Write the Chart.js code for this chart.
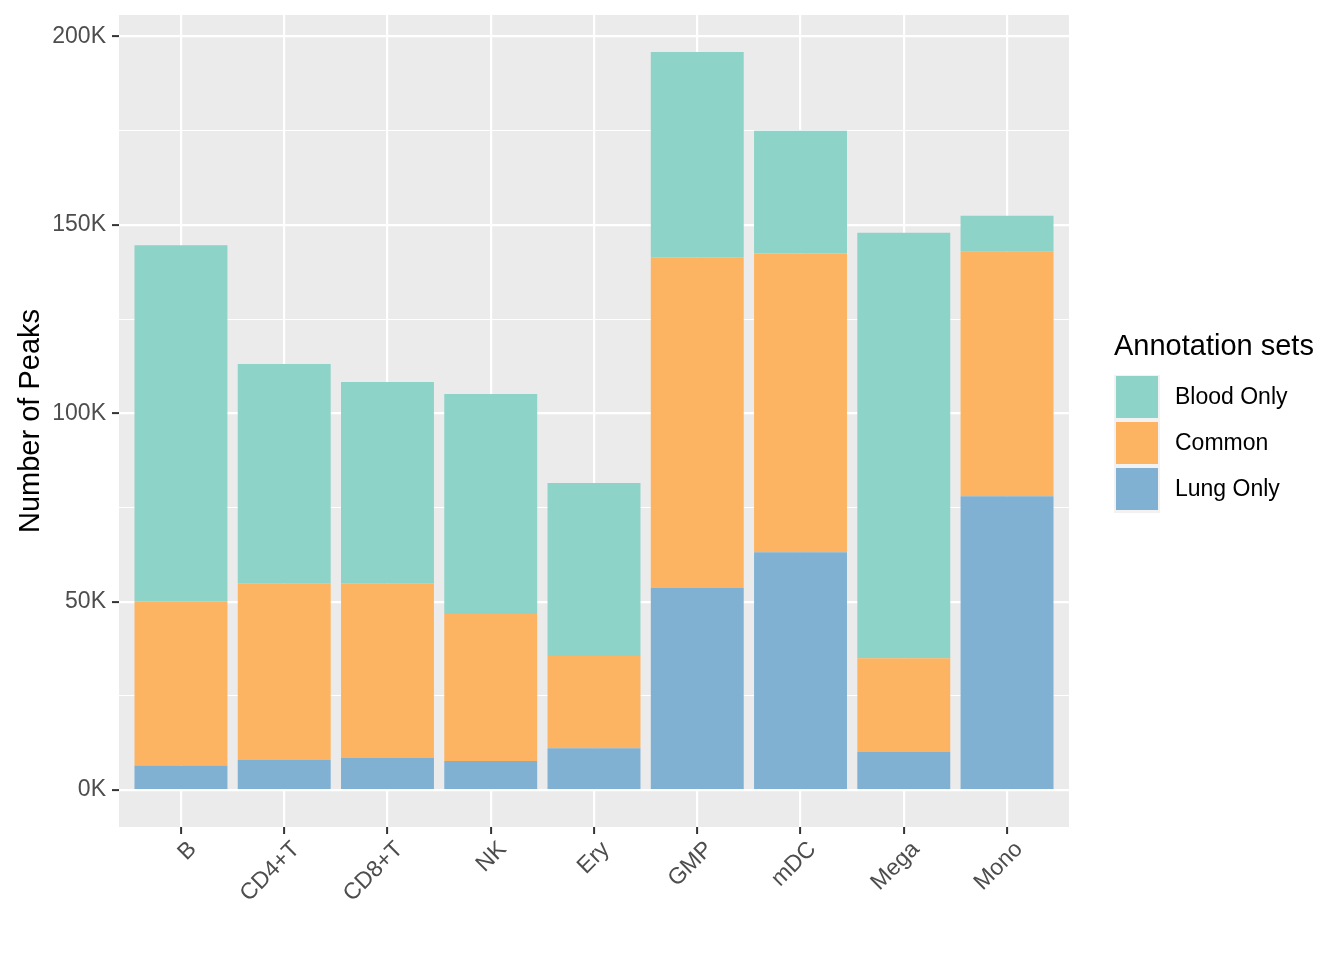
<!DOCTYPE html>
<html><head><meta charset="utf-8">
<script src="https://cdn.jsdelivr.net/npm/chart.js@4.4.0/dist/chart.umd.min.js"></script>
<style>html,body{margin:0;padding:0;background:#fff;} canvas{display:block;}</style>
</head><body>
<canvas id="c" width="1344" height="960"></canvas>
<script>
// ---- data (values in thousands of peaks) ----
const categories = ['B','CD4+T','CD8+T','NK','Ery','GMP','mDC','Mega','Mono'];
const lungOnlyK  = [6.5, 8.0, 8.5, 7.7, 11.1, 53.6, 63.1, 10.1, 78.0];
const commonK    = [43.5, 46.9, 46.4, 39.0, 24.5, 87.8, 79.3, 24.9, 64.9];
const bloodOnlyK = [94.6, 58.2, 53.4, 58.4, 45.9, 54.5, 32.6, 112.9, 9.5];
const yMajorTicksK = [0, 50, 100, 150, 200];
const yMinorTicksK = [25, 75, 125, 175];
const legendTitle = 'Annotation sets';
const legendLabels = ['Blood Only', 'Common', 'Lung Only'];
const yAxisTitle = 'Number of Peaks';

const COLORS = {'Blood Only':'#8DD3C7','Common':'#FDB462','Lung Only':'#80B1D3'};
const FONT = '"Liberation Sans", Arial, Helvetica, sans-serif';

const toPts = arr => arr.map((v,i)=>({x:i, y:v}));

const panelBg = {
  id:'panelBg',
  beforeDraw(chart){
    const {ctx, chartArea:a} = chart;
    ctx.save();
    ctx.fillStyle = '#FFFFFF';
    ctx.fillRect(0,0,chart.width,chart.height);
    ctx.fillStyle = '#EBEBEB';
    ctx.fillRect(a.left, a.top, a.right-a.left, a.bottom-a.top);
    ctx.restore();
  }
};

const overlay = {
  id:'overlay',
  afterDraw(chart){
    const {ctx, chartArea:a} = chart;
    ctx.save();
    // y axis title
    ctx.fillStyle = '#000000';
    ctx.font = '29px ' + FONT;
    ctx.textAlign = 'center';
    ctx.textBaseline = 'alphabetic';
    ctx.translate(39, (a.top + a.bottom)/2);
    ctx.rotate(-Math.PI/2);
    ctx.fillText(yAxisTitle, 0, 0);
    ctx.restore();

    // legend
    ctx.save();
    ctx.fillStyle = '#000000';
    ctx.font = '29px ' + FONT;
    ctx.textAlign = 'left';
    ctx.textBaseline = 'alphabetic';
    ctx.fillText(legendTitle, 1114, 355);
    const kx = 1114, ky = 375, ks = 46;
    ctx.fillStyle = '#F2F2F2';
    ctx.fillRect(kx, ky, ks, ks*legendLabels.length);
    ctx.font = '23px ' + FONT;
    legendLabels.forEach((lab,i)=>{
      ctx.fillStyle = COLORS[lab];
      ctx.fillRect(kx+2, ky+1+i*ks, ks-4, ks-4);
      ctx.fillStyle = '#000000';
      ctx.fillText(lab, 1175, ky + i*ks + 29);
    });
    ctx.restore();
  }
};

new Chart(document.getElementById('c'), {
  type:'bar',
  data:{
    datasets:[
      {label:'Lung Only', data: toPts(lungOnlyK), backgroundColor: COLORS['Lung Only']},
      {label:'Common', data: toPts(commonK), backgroundColor: COLORS['Common']},
      {label:'Blood Only', data: toPts(bloodOnlyK), backgroundColor: COLORS['Blood Only']}
    ]
  },
  options:{
    responsive:false,
    animation:false,
    devicePixelRatio:1,
    layout:{padding:{top:15, right:275, bottom:0, left:0}},
    datasets:{bar:{barPercentage:0.9, categoryPercentage:1.0, borderWidth:0}},
    plugins:{legend:{display:false}, tooltip:{enabled:false}, title:{display:false}},
    scales:{
      x:{
        type:'linear', stacked:true, min:-0.6, max:8.6, offset:false,
        afterBuildTicks: ax => { ax.ticks = categories.map((c,i)=>({value:i})); },
        afterFit: ax => { ax.height = 133; ax.paddingLeft = 0; ax.paddingRight = 0; },
        border:{display:false},
        grid:{offset:false, color:'#FFFFFF', lineWidth:2.2, tickColor:'#333333', tickWidth:2, tickLength:7, drawTicks:true},
        ticks:{
          autoSkip:false, minRotation:45, maxRotation:45, padding:2, labelOffset:12,
          color:'#4D4D4D', font:{family:FONT, size:23},
          callback: v => categories[v] ?? ''
        }
      },
      y:{
        type:'linear', stacked:true, min:-9.8, max:205.7,
        afterBuildTicks: ax => {
          ax.ticks = yMajorTicksK.concat(yMinorTicksK).sort((p,q)=>p-q).map(v=>({value:v}));
        },
        afterFit: ax => { ax.width = 119; ax.paddingTop = 0; ax.paddingBottom = 0; },
        border:{display:false},
        grid:{
          color:'#FFFFFF',
          lineWidth: c => (c.tick && yMajorTicksK.includes(c.tick.value)) ? 2.2 : 1.1,
          tickColor: c => (c.tick && yMajorTicksK.includes(c.tick.value)) ? '#333333' : 'rgba(0,0,0,0)',
          tickWidth:2, tickLength:7, drawTicks:true
        },
        ticks:{
          padding:6, color:'#4D4D4D', font:{family:FONT, size:23},
          callback: v => yMajorTicksK.includes(v) ? (v + 'K') : ''
        }
      }
    }
  },
  plugins:[panelBg, overlay]
});
</script>
</body></html>
